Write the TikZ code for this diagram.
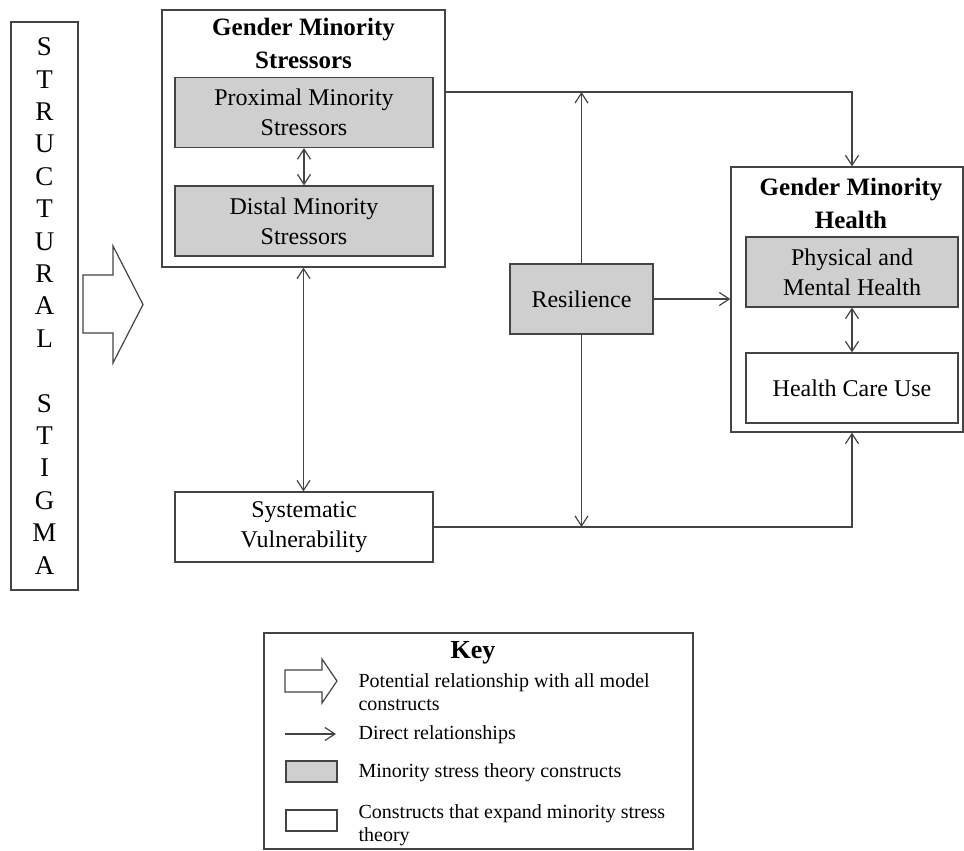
\documentclass[tikz,border=0pt]{standalone}
\usepackage{fontspec}
\setmainfont{Liberation Serif}
\usepackage{tikz}
\usetikzlibrary{arrows.meta, positioning}
\definecolor{lineclr}{RGB}{68, 68, 68}
\definecolor{msfill}{RGB}{208, 207, 208}

\begin{document}
\begin{tikzpicture}[x=0.5pt, y=-0.5pt, line width=0.6pt,
  outer/.style={draw=lineclr, inner sep=0pt},
  construct/.style={draw=lineclr, align=center, inner sep=0pt, minimum width=129pt, minimum height=35pt, font=\fontsize{12}{15}\selectfont},
  mst/.style={construct, fill=msfill},
  title/.style={align=center, inner sep=0pt, font=\fontsize{12.5}{16.5}\selectfont\bfseries},
  link/.style={draw=lineclr, -{Straight Barb[length=5pt, width=6.5pt]}},
  both/.style={draw=lineclr, {Straight Barb[length=5pt, width=6.5pt]}-{Straight Barb[length=5pt, width=6.5pt]}},
  keytext/.style={anchor=west, align=left, inner sep=0pt, font=\fontsize{10}{11.5}\selectfont}]
  \useasboundingbox (0,0) rectangle (964,851);

  % structural stigma
  \node[outer, align=center, minimum width=33.5pt, minimum height=284pt, font=\fontsize{13.5}{16.2}\selectfont] (stigma) at (44.5,306)
    {S\\T\\R\\U\\C\\T\\U\\R\\A\\L\\~\\S\\T\\I\\G\\M\\A};
  \draw[lineclr, fill=white] (83,275) -- (113,275) -- (113,246) -- (143,304.5) -- (113,363) -- (113,333) -- (83,333) -- cycle;

  % gender minority stressors
  \node[outer, minimum width=141.5pt, minimum height=128.5pt] (gms) at (303.5,138.5) {};
  \node[title] (gmstitle) at (303.5,43) {Gender Minority\\Stressors};
  \node[mst] (prox) at (304,112.5) {Proximal Minority\\Stressors};
  \node[mst] (dist) at (304,221) {Distal Minority\\Stressors};
  \node[construct] (sysv) at (304,527) {Systematic\\Vulnerability};
  \node[mst, minimum width=71.5pt] (resil) at (581.5,299) {Resilience};

  % gender minority health
  \node[outer, minimum width=116pt, minimum height=132.5pt] (gmh) at (847,299.5) {};
  \node[title] (gmhtitle) at (851,203) {Gender Minority\\Health};
  \node[mst, minimum width=106pt] (phys) at (852,272) {Physical and\\Mental Health};
  \node[construct, minimum width=106pt] (hcu) at (852,388) {Health Care Use};

  \draw[both] (prox) -- (dist);
  \draw[both] (phys) -- (hcu);
  \draw[both] (gms.south) -- (gms.south |- sysv.north);
  \draw[link] (gms.east |- 0,92) -| (gmh.north -| phys);
  \draw[link] (resil.north) -- (resil.north |- 0,92);
  \draw[link] (resil.south) -- (resil.south |- sysv.east);
  \draw[link] (resil.east) -- (resil.east -| gmh.west);
  \draw[link] (sysv.east) -| (gmh.south -| phys);

  % key
  \node[outer, minimum width=214.5pt, minimum height=108pt] (key) at (478.5,741) {};
  \node[inner sep=0pt, font=\fontsize{13}{15}\selectfont\bfseries] (keytitle) at (473,653) {Key};
  \draw[lineclr, fill=white] (285,670) -- (322,670) -- (322,659) -- (337,681) -- (322,703) -- (322,692) -- (285,692) -- cycle;
  \coordinate (keyd) at (285,734);
  \draw[link] (keyd) -- ++(51,0);
  \node[outer, fill=msfill, minimum width=25.5pt, minimum height=10.5pt] (keyms) at (311.5,771.5) {};
  \node[outer, fill=white, minimum width=25.5pt, minimum height=10.5pt] (keyex) at (311.5,820.5) {};
  \node[keytext] (keyp) at (358,692) {Potential relationship with all model\\constructs};
  \node[keytext] (keyr) at (358,735) {Direct relationships};
  \node[keytext] (keym) at (358,773) {Minority stress theory constructs};
  \node[keytext] (keyc) at (358,825) {Constructs that expand minority stress\\theory};
\end{tikzpicture}
\end{document}
